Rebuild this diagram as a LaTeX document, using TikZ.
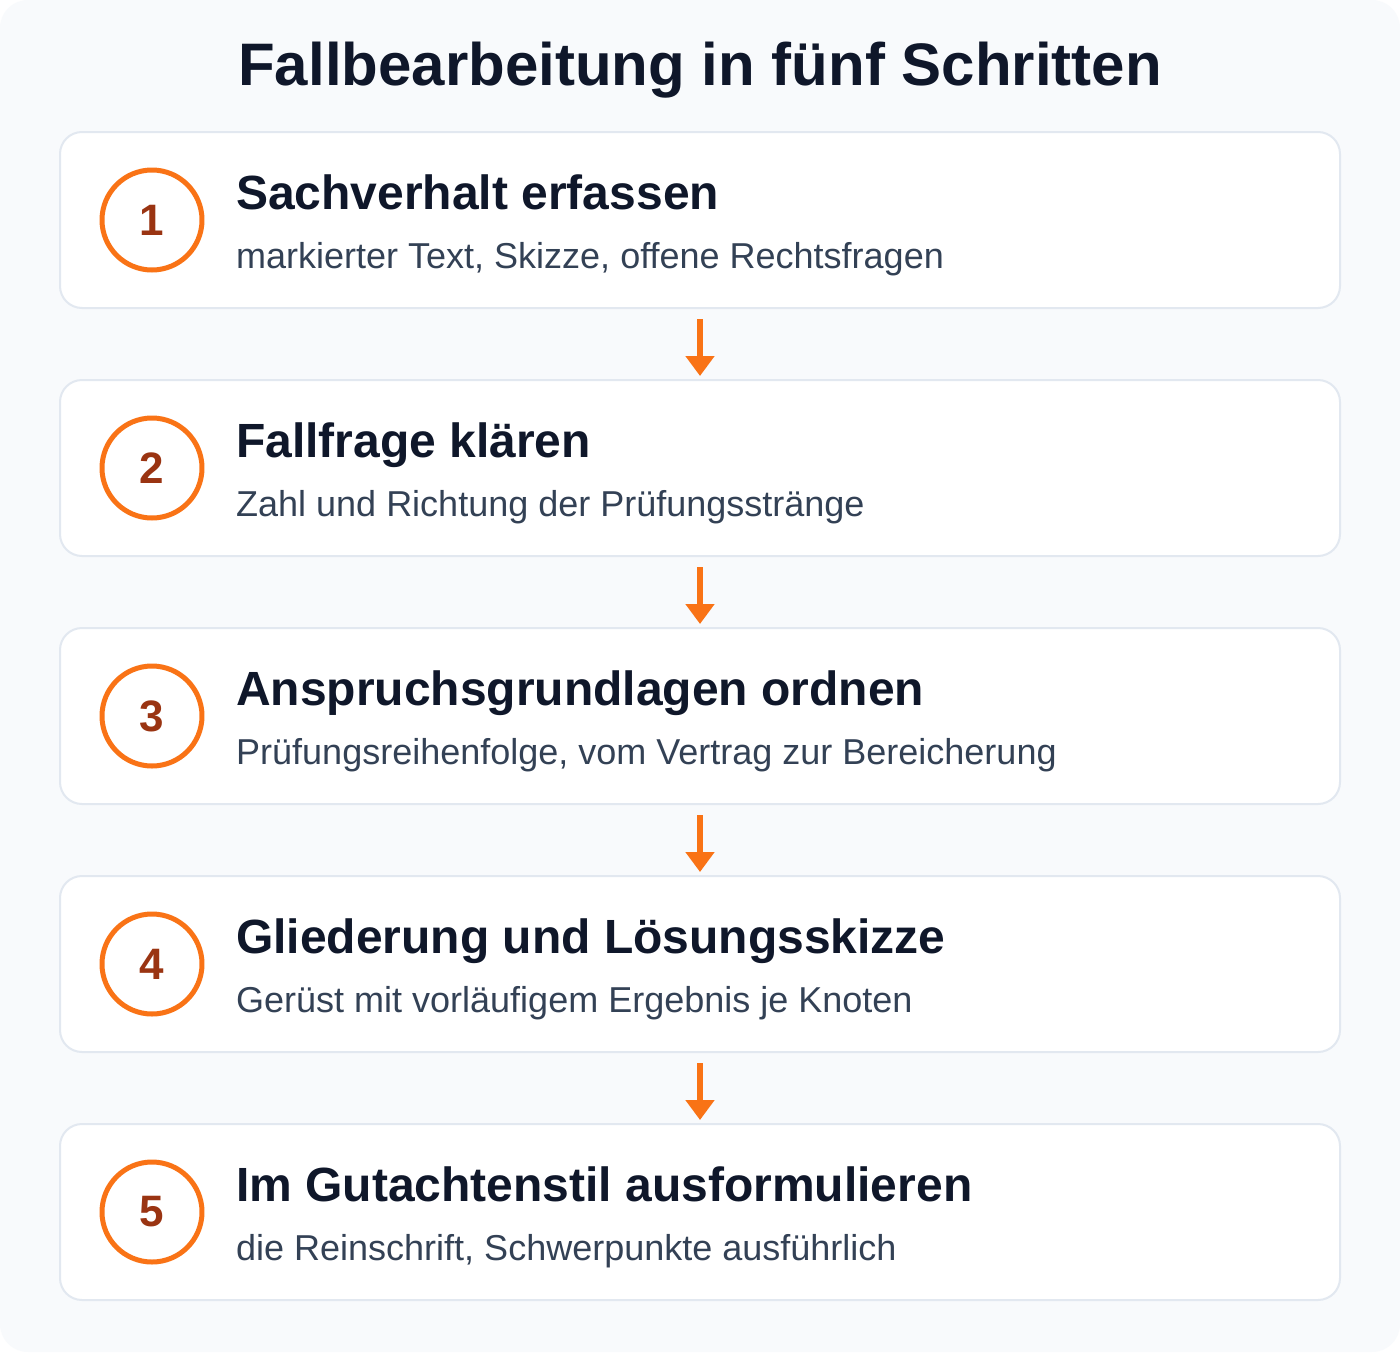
\documentclass[tikz,border=0pt]{standalone}
\usepackage{fontspec}
\setmainfont{Liberation Sans}
\usetikzlibrary{arrows.meta}
\definecolor{bg}{HTML}{F8FAFC}
\definecolor{rim}{HTML}{E2E8F0}
\definecolor{ink}{HTML}{0F172A}
\definecolor{slate}{HTML}{334155}
\definecolor{tangerine}{HTML}{F97316}
\definecolor{rust}{HTML}{9A3412}
\begin{document}
\begin{tikzpicture}[x=1pt,y=-1pt,line join=round,
		stepbox/.style={draw=rim,line width=2pt,fill=white,rounded corners=22pt,minimum width=1280pt,minimum height=176pt,inner sep=0pt},
		ring/.style={circle,draw=tangerine,line width=5pt,fill=white,minimum size=100pt,inner sep=0pt,text=rust,font=\fontsize{44}{50}\selectfont\bfseries},
		heading/.style={anchor=base west,inner sep=0pt,text=ink,font=\fontsize{48}{56}\selectfont\bfseries},
		detail/.style={anchor=base west,inner sep=0pt,text=slate,font=\fontsize{36}{42}\selectfont},
		flow/.style={draw=tangerine,line width=6pt,-{Triangle[width=28pt,length=20pt]}}]
			\fill[white] (0,0) rectangle (1400,1352);
			\fill[bg,rounded corners=28pt] (0,0) rectangle (1400,1352);
			\useasboundingbox (0,0) rectangle (1400,1352);
			\node[anchor=base,inner sep=0pt,text=ink,font=\fontsize{60}{70}\selectfont\bfseries] (title) at (700,85) {Fallbearbeitung in fünf Schritten};
			% Schritt 1
			\node[stepbox] (s1) at (700,220) {};
			\node[ring] (n1) at (152,220) {1};
			\node[heading] (h1) at (236,209) {Sachverhalt erfassen};
			\node[detail] (d1) at (236,268) {markierter Text, Skizze, offene Rechtsfragen};
			% Schritt 2
			\node[stepbox] (s2) at (700,468) {};
			\node[ring] (n2) at (152,468) {2};
			\node[heading] (h2) at (236,457) {Fallfrage klären};
			\node[detail] (d2) at (236,516) {Zahl und Richtung der Prüfungsstränge};
			% Schritt 3
			\node[stepbox] (s3) at (700,716) {};
			\node[ring] (n3) at (152,716) {3};
			\node[heading] (h3) at (236,705) {Anspruchsgrundlagen ordnen};
			\node[detail] (d3) at (236,764) {Prüfungsreihenfolge, vom Vertrag zur Bereicherung};
			% Schritt 4
			\node[stepbox] (s4) at (700,964) {};
			\node[ring] (n4) at (152,964) {4};
			\node[heading] (h4) at (236,953) {Gliederung und Lösungsskizze};
			\node[detail] (d4) at (236,1012) {Gerüst mit vorläufigem Ergebnis je Knoten};
			% Schritt 5
			\node[stepbox] (s5) at (700,1212) {};
			\node[ring] (n5) at (152,1212) {5};
			\node[heading] (h5) at (236,1201) {Im Gutachtenstil ausformulieren};
			\node[detail] (d5) at (236,1260) {die Reinschrift, Schwerpunkte ausführlich};
			% Pfeile
			\draw[flow] ([yshift=-10pt]s1.south) -- ([yshift=3pt]s2.north);
			\draw[flow] ([yshift=-10pt]s2.south) -- ([yshift=3pt]s3.north);
			\draw[flow] ([yshift=-10pt]s3.south) -- ([yshift=3pt]s4.north);
			\draw[flow] ([yshift=-10pt]s4.south) -- ([yshift=3pt]s5.north);
		\end{tikzpicture}
\end{document}
